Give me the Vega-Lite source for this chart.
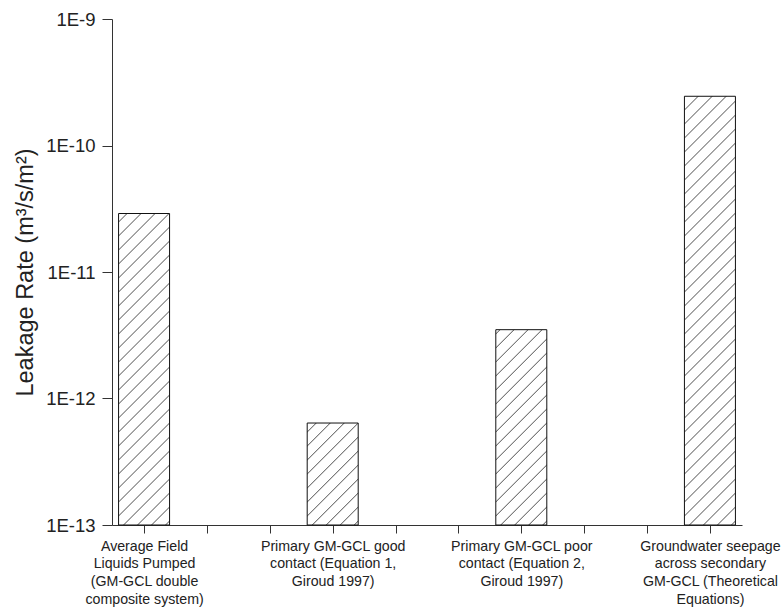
{
  "$schema": "https://vega.github.io/schema/vega-lite/v6.json",
  "width": 630,
  "height": 506,
  "autosize": "none",
  "padding": {"left": 112, "top": 19, "right": 39, "bottom": 85},
  "background": "white",
  "config": {
    "view": {"stroke": null},
    "font": "Liberation Sans",
    "axis": {"grid": false, "domainColor": "#333", "tickColor": "#333", "labelColor": "#222", "titleColor": "#222", "labelFont": "Liberation Sans", "titleFont": "Liberation Sans"}
  },
  "datasets": {
    "bars": [
      {"cat": 1, "rate": 2.9e-11},
      {"cat": 2, "rate": 6.4e-13},
      {"cat": 3, "rate": 3.5e-12},
      {"cat": 4, "rate": 2.45e-10}
    ],
    "minor": [
      {"v": 2e-13}, {"v": 3e-13}, {"v": 4e-13}, {"v": 5e-13}, {"v": 6e-13}, {"v": 7e-13}, {"v": 8e-13}, {"v": 9e-13},
      {"v": 2e-12}, {"v": 3e-12}, {"v": 4e-12}, {"v": 5e-12}, {"v": 6e-12}, {"v": 7e-12}, {"v": 8e-12}, {"v": 9e-12},
      {"v": 2e-11}, {"v": 3e-11}, {"v": 4e-11}, {"v": 5e-11}, {"v": 6e-11}, {"v": 7e-11}, {"v": 8e-11}, {"v": 9e-11},
      {"v": 2e-10}, {"v": 3e-10}, {"v": 4e-10}, {"v": 5e-10}, {"v": 6e-10}, {"v": 7e-10}, {"v": 8e-10}, {"v": 9e-10}
    ]
  },
  "data": {"name": "bars"},
  "encoding": {
    "x": {
      "field": "cat",
      "type": "quantitative",
      "scale": {"domain": [0.83, 4.17], "nice": false, "zero": false, "padding": 0},
      "axis": {
        "title": null,
        "values": [1, 1.3333, 1.6667, 2, 2.3333, 2.6667, 3, 3.3333, 3.6667, 4],
        "tickCount": 100,
        "tickSize": 8,
        "labelPadding": 6,
        "labelFontSize": 14.2,
        "labelLineHeight": 17.7,
        "labelOverlap": false,
        "labelFlush": false,
        "labelBound": false,
        "labelExpr": "datum.value == 1 ? ['Average Field', 'Liquids Pumped', '(GM-GCL double', 'composite system)'] : datum.value == 2 ? ['Primary GM-GCL good', 'contact (Equation 1,', 'Giroud 1997)'] : datum.value == 3 ? ['Primary GM-GCL poor', 'contact (Equation 2,', 'Giroud 1997)'] : datum.value == 4 ? ['Groundwater seepage', 'across secondary', 'GM-GCL (Theoretical', 'Equations)'] : ''"
      }
    }
  },
  "layer": [
    {
      "mark": {
        "type": "bar",
        "size": 51,
        "stroke": null,
        "fill": {
          "gradient": "linear",
          "x1": 0, "y1": 0, "x2": 0.10983, "y2": 1.08972,
          "stops": [
            {"offset": 0.0104, "color": "#ffffff"}, {"offset": 0.0126, "color": "#666666"}, {"offset": 0.0147, "color": "#ffffff"},
            {"offset": 0.0355, "color": "#ffffff"}, {"offset": 0.0377, "color": "#666666"}, {"offset": 0.0399, "color": "#ffffff"},
            {"offset": 0.0607, "color": "#ffffff"}, {"offset": 0.0628, "color": "#666666"}, {"offset": 0.0650, "color": "#ffffff"},
            {"offset": 0.0858, "color": "#ffffff"}, {"offset": 0.0880, "color": "#666666"}, {"offset": 0.0901, "color": "#ffffff"},
            {"offset": 0.1110, "color": "#ffffff"}, {"offset": 0.1131, "color": "#666666"}, {"offset": 0.1153, "color": "#ffffff"},
            {"offset": 0.1361, "color": "#ffffff"}, {"offset": 0.1382, "color": "#666666"}, {"offset": 0.1404, "color": "#ffffff"},
            {"offset": 0.1612, "color": "#ffffff"}, {"offset": 0.1634, "color": "#666666"}, {"offset": 0.1655, "color": "#ffffff"},
            {"offset": 0.1864, "color": "#ffffff"}, {"offset": 0.1885, "color": "#666666"}, {"offset": 0.1907, "color": "#ffffff"},
            {"offset": 0.2115, "color": "#ffffff"}, {"offset": 0.2136, "color": "#666666"}, {"offset": 0.2158, "color": "#ffffff"},
            {"offset": 0.2366, "color": "#ffffff"}, {"offset": 0.2388, "color": "#666666"}, {"offset": 0.2409, "color": "#ffffff"},
            {"offset": 0.2618, "color": "#ffffff"}, {"offset": 0.2639, "color": "#666666"}, {"offset": 0.2661, "color": "#ffffff"},
            {"offset": 0.2869, "color": "#ffffff"}, {"offset": 0.2890, "color": "#666666"}, {"offset": 0.2912, "color": "#ffffff"},
            {"offset": 0.3120, "color": "#ffffff"}, {"offset": 0.3142, "color": "#666666"}, {"offset": 0.3163, "color": "#ffffff"},
            {"offset": 0.3372, "color": "#ffffff"}, {"offset": 0.3393, "color": "#666666"}, {"offset": 0.3415, "color": "#ffffff"},
            {"offset": 0.3623, "color": "#ffffff"}, {"offset": 0.3645, "color": "#666666"}, {"offset": 0.3666, "color": "#ffffff"},
            {"offset": 0.3874, "color": "#ffffff"}, {"offset": 0.3896, "color": "#666666"}, {"offset": 0.3917, "color": "#ffffff"},
            {"offset": 0.4126, "color": "#ffffff"}, {"offset": 0.4147, "color": "#666666"}, {"offset": 0.4169, "color": "#ffffff"},
            {"offset": 0.4377, "color": "#ffffff"}, {"offset": 0.4399, "color": "#666666"}, {"offset": 0.4420, "color": "#ffffff"},
            {"offset": 0.4628, "color": "#ffffff"}, {"offset": 0.4650, "color": "#666666"}, {"offset": 0.4671, "color": "#ffffff"},
            {"offset": 0.4880, "color": "#ffffff"}, {"offset": 0.4901, "color": "#666666"}, {"offset": 0.4923, "color": "#ffffff"},
            {"offset": 0.5131, "color": "#ffffff"}, {"offset": 0.5153, "color": "#666666"}, {"offset": 0.5174, "color": "#ffffff"},
            {"offset": 0.5382, "color": "#ffffff"}, {"offset": 0.5404, "color": "#666666"}, {"offset": 0.5425, "color": "#ffffff"},
            {"offset": 0.5634, "color": "#ffffff"}, {"offset": 0.5655, "color": "#666666"}, {"offset": 0.5677, "color": "#ffffff"},
            {"offset": 0.5885, "color": "#ffffff"}, {"offset": 0.5907, "color": "#666666"}, {"offset": 0.5928, "color": "#ffffff"},
            {"offset": 0.6137, "color": "#ffffff"}, {"offset": 0.6158, "color": "#666666"}, {"offset": 0.6179, "color": "#ffffff"},
            {"offset": 0.6388, "color": "#ffffff"}, {"offset": 0.6409, "color": "#666666"}, {"offset": 0.6431, "color": "#ffffff"},
            {"offset": 0.6639, "color": "#ffffff"}, {"offset": 0.6661, "color": "#666666"}, {"offset": 0.6682, "color": "#ffffff"},
            {"offset": 0.6891, "color": "#ffffff"}, {"offset": 0.6912, "color": "#666666"}, {"offset": 0.6934, "color": "#ffffff"},
            {"offset": 0.7142, "color": "#ffffff"}, {"offset": 0.7163, "color": "#666666"}, {"offset": 0.7185, "color": "#ffffff"},
            {"offset": 0.7393, "color": "#ffffff"}, {"offset": 0.7415, "color": "#666666"}, {"offset": 0.7436, "color": "#ffffff"},
            {"offset": 0.7645, "color": "#ffffff"}, {"offset": 0.7666, "color": "#666666"}, {"offset": 0.7688, "color": "#ffffff"},
            {"offset": 0.7896, "color": "#ffffff"}, {"offset": 0.7917, "color": "#666666"}, {"offset": 0.7939, "color": "#ffffff"},
            {"offset": 0.8147, "color": "#ffffff"}, {"offset": 0.8169, "color": "#666666"}, {"offset": 0.8190, "color": "#ffffff"},
            {"offset": 0.8399, "color": "#ffffff"}, {"offset": 0.8420, "color": "#666666"}, {"offset": 0.8442, "color": "#ffffff"},
            {"offset": 0.8650, "color": "#ffffff"}, {"offset": 0.8671, "color": "#666666"}, {"offset": 0.8693, "color": "#ffffff"},
            {"offset": 0.8901, "color": "#ffffff"}, {"offset": 0.8923, "color": "#666666"}, {"offset": 0.8944, "color": "#ffffff"},
            {"offset": 0.9153, "color": "#ffffff"}, {"offset": 0.9174, "color": "#666666"}, {"offset": 0.9196, "color": "#ffffff"},
            {"offset": 0.9404, "color": "#ffffff"}, {"offset": 0.9425, "color": "#666666"}, {"offset": 0.9447, "color": "#ffffff"},
            {"offset": 0.9655, "color": "#ffffff"}, {"offset": 0.9677, "color": "#666666"}, {"offset": 0.9698, "color": "#ffffff"},
            {"offset": 0.9907, "color": "#ffffff"}, {"offset": 0.9928, "color": "#666666"}, {"offset": 0.9950, "color": "#ffffff"}
          ]
        }
      },
      "encoding": {
        "y": {
          "datum": 1e-9,
          "type": "quantitative",
          "scale": {"type": "log", "domain": [1e-13, 1e-9], "nice": false},
          "axis": null
        },
        "y2": {"datum": 1e-13}
      }
    },
    {
      "mark": {"type": "bar", "size": 53, "fill": "white", "stroke": null},
      "encoding": {
        "y": {
          "field": "rate",
          "type": "quantitative",
          "scale": {"type": "log", "domain": [1e-13, 1e-9], "nice": false},
          "axis": null
        },
        "y2": {"datum": 1e-9}
      }
    },
    {
      "mark": {"type": "bar", "size": 51, "fill": "transparent", "stroke": "#111", "strokeWidth": 1},
      "encoding": {
        "y": {
          "field": "rate",
          "type": "quantitative",
          "scale": {"type": "log", "domain": [1e-13, 1e-9], "nice": false},
          "axis": {
            "orient": "left",
            "values": [1e-13, 1e-12, 1e-11, 1e-10, 1e-9],
            "tickCount": 100,
            "tickSize": 10,
            "labelPadding": 7,
            "labelFontSize": 18.5,
            "labelOverlap": false,
            "labelExpr": "'1E' + round(log(datum.value) / LN10)",
            "title": "Leakage Rate (m³/s/m²)",
            "titleFontSize": 23.5,
            "titleFontWeight": "normal",
            "titleAngle": -90,
            "titleAlign": "center",
            "titleBaseline": "alphabetic",
            "titleX": -80,
            "titleY": 253
          }
        },
        "y2": {"datum": 1e-13}
      }
    },
    {
      "data": {"name": "minor"},
      "mark": {"type": "tick", "orient": "horizontal", "color": "#333", "size": 5, "thickness": 1, "opacity": 1, "clip": false},
      "encoding": {
        "x": {"datum": 0.8167, "type": "quantitative"},
        "y": {
          "field": "v",
          "type": "quantitative",
          "scale": {"type": "log", "domain": [1e-13, 1e-9], "nice": false},
          "axis": null
        }
      }
    }
  ],
  "resolve": {"axis": {"y": "independent"}}
}
